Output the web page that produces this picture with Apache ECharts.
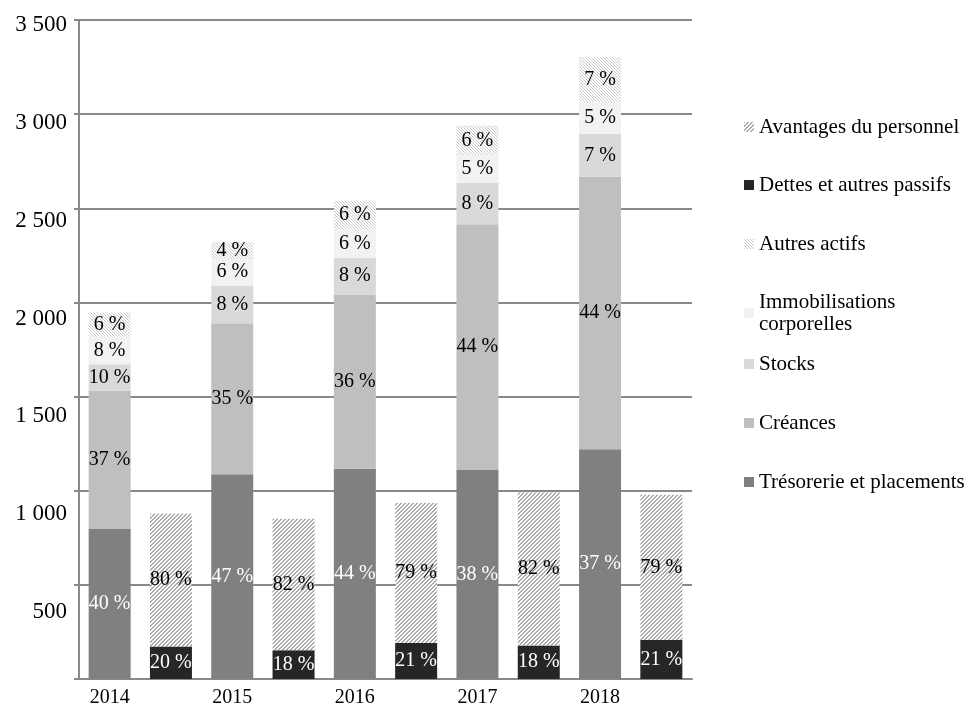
<!DOCTYPE html>
<html><head><meta charset="utf-8">
<script src="https://cdn.jsdelivr.net/npm/echarts@6/dist/echarts.min.js"></script>
<style>html,body{margin:0;padding:0;background:#fff}#c{width:973px;height:707px}</style>
</head><body><div id="c"></div>
<script>
// ---- data ----
const years = ['2014','2015','2016','2017','2018'];
const yTicks = [0,500,1000,1500,2000,2500,3000,3500];
const tresorerie      = [799,1088,1117,1110,1220];
const creances        = [732,802,925,1305,1448];
const stocks          = [140,200,195,220,226];
const immobilisations = [150,141,150,147,172];
const autresActifs    = [126,89,153,158,236];
const dettes          = [172,153,191,178,208];
const avantages       = [706,698,744,813,771];
const pctTresorerie      = [40,47,44,38,37];
const pctCreances        = [37,35,36,44,44];
const pctStocks          = [10,8,8,8,7];
const pctImmobilisations = [8,6,6,5,5];
const pctAutresActifs    = [6,4,6,6,7];
const pctDettes          = [20,18,21,18,21];
const pctAvantages       = [80,82,79,82,79];

const FONT = '"Liberation Serif", "DejaVu Serif", serif';
const GRID = '#898989';

function hatch(fwd, color, period, thick) {
  const c = document.createElement('canvas');
  c.width = period; c.height = period;
  const g = c.getContext('2d');
  g.fillStyle = '#fff'; g.fillRect(0, 0, period, period);
  g.fillStyle = color;
  for (let x = 0; x < period; x++) {
    for (let t = 0; t < thick; t++) {
      const y = fwd ? (period - 1 - x + t) % period : (x + t) % period;
      g.fillRect(x, y, 1, 1);
    }
  }
  return { image: c, repeat: 'repeat' };
}

const xCats = years.flatMap(y => [y, y + ' passif']);
const asAsset = arr => arr.flatMap(v => [v, '-']);
const asLiab = arr => arr.flatMap(v => ['-', v]);

function bar(name, data, pct, color, labelColor) {
  return {
    name, type: 'bar', stack: 'all', barWidth: 42,
    xAxisIndex: 0, yAxisIndex: 0,
    data,
    itemStyle: { color },
    label: {
      show: true, position: 'inside', color: labelColor,
      fontFamily: FONT, fontSize: 20,
      formatter: p => pct[Math.floor(p.dataIndex / 2)] + ' %'
    },
    emphasis: { disabled: true }
  };
}

const cAvantages = hatch(true, '#aaaaaa', 4, 2);
const cAutres = hatch(false, '#cacaca', 3, 1);

const series = [
  bar('Trésorerie et placements', asAsset(tresorerie), pctTresorerie, '#808080', '#fff'),
  bar('Créances', asAsset(creances), pctCreances, '#bfbfbf', '#000'),
  bar('Stocks', asAsset(stocks), pctStocks, '#d9d9d9', '#000'),
  bar('Immobilisations\ncorporelles', asAsset(immobilisations), pctImmobilisations, '#f2f2f2', '#000'),
  bar('Autres actifs', asAsset(autresActifs), pctAutresActifs, cAutres, '#000'),
  bar('Dettes et autres passifs', asLiab(dettes), pctDettes, '#262626', '#fff'),
  bar('Avantages du personnel', asLiab(avantages), pctAvantages, cAvantages, '#000')
];

const legendItems = [
  ['Avantages du personnel', 127],
  ['Dettes et autres passifs', 185],
  ['Autres actifs', 244],
  ['Immobilisations\ncorporelles', 313],
  ['Stocks', 364],
  ['Créances', 423],
  ['Trésorerie et placements', 482]
];
const legends = legendItems.map(([name, cy]) => ({
  data: [name], orient: 'vertical', left: 744, padding: 0,
  top: cy - (name.includes('\n') ? 22 : 11),
  icon: 'rect', itemWidth: 10, itemHeight: 10,
  selectedMode: false,
  textStyle: { fontFamily: FONT, fontSize: 21, color: '#000', lineHeight: 22 }
}));

function fmtNum(v) {
  if (v === 0) return '';
  if (v >= 1000) return Math.floor(v / 1000) + ' ' + String(v % 1000).padStart(3, '0');
  return String(v);
}

const chart = echarts.init(document.getElementById('c'), null, { renderer: 'canvas' });
chart.setOption({
  animation: false,
  backgroundColor: '#fff',
  legend: legends,
  grid: [
    { left: 79, right: 281, top: 20, bottom: 28, containLabel: false, outerBoundsMode: 'none' },
    { left: 79, width: 1, top: 25, height: 685, containLabel: false, outerBoundsMode: 'none' }
  ],
  xAxis: [
    {
      gridIndex: 0, type: 'category', data: xCats,
      axisLine: { lineStyle: { color: GRID, width: 2 } },
      axisTick: { show: false },
      axisLabel: {
        interval: 0, margin: 9, color: '#000', fontFamily: FONT, fontSize: 20,
        formatter: (v, i) => (i % 2 === 0 ? v : '')
      }
    },
    { gridIndex: 1, type: 'category', data: ['a'], show: false }
  ],
  yAxis: [
    {
      gridIndex: 0, type: 'value', min: yTicks[0], max: yTicks[yTicks.length - 1], interval: 500,
      axisLine: { show: true, lineStyle: { color: GRID, width: 2 } },
      axisTick: { show: true, length: 5, lineStyle: { color: GRID, width: 2 } },
      axisLabel: { show: false },
      splitLine: { lineStyle: { color: GRID, width: 2 } }
    },
    {
      gridIndex: 1, type: 'value', min: yTicks[0], max: yTicks[yTicks.length - 1], interval: 500,
      axisLine: { show: false }, axisTick: { show: false }, splitLine: { show: false },
      axisLabel: { margin: 12, color: '#000', fontFamily: FONT, fontSize: 23, formatter: fmtNum }
    }
  ],
  series
});
</script>
</body></html>
